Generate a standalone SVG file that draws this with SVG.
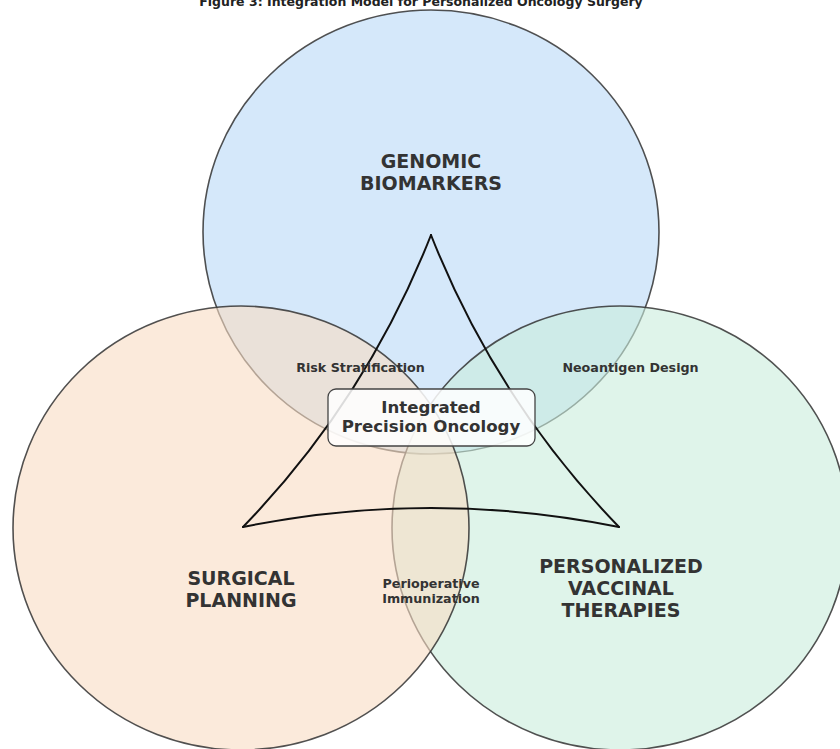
<svg xmlns="http://www.w3.org/2000/svg" width="840" height="749" viewBox="0 0 840 749">
  <style>
    text { font-family: "DejaVu Sans", "Liberation Sans", sans-serif; font-weight: bold; fill: #333; text-anchor: middle; }
    .title { font-size: 12.5px; fill: #222; }
    .big { font-size: 19px; }
    .small { font-size: 12.7px; }
    .center { font-size: 16.6px; }
    .circ { stroke: #333; stroke-opacity: 0.85; stroke-width: 1.6; fill-opacity: 0.6; }
    .edge { fill: none; stroke: #111; stroke-width: 2; stroke-linecap: round; }
  </style>
  <rect width="840" height="749" fill="#ffffff"/>
  <text class="title" x="421" y="6">Figure 3: Integration Model for Personalized Oncology Surgery</text>

  <g id="genomic-biomarkers">
    <ellipse class="circ" cx="431" cy="232" rx="228" ry="222" fill="#b9d8f7"/>
  </g>
  <g id="personalized-vaccinal-therapies">
    <ellipse class="circ" cx="620" cy="528" rx="228" ry="222" fill="#caeddc"/>
  </g>
  <g id="surgical-planning">
    <ellipse class="circ" cx="241" cy="528" rx="228" ry="222" fill="#f8dcc3"/>
  </g>

  <g id="connectors">
    <path class="edge" d="M431,235 Q366,400 243,527"/>
    <path class="edge" d="M243,527 Q431,489 619,527"/>
    <path class="edge" d="M619,527 Q496,400 431,235"/>
  </g>

  <g id="labels">
    <text class="big" x="431" y="168">GENOMIC</text>
    <text class="big" x="431" y="190">BIOMARKERS</text>
    <text class="big" x="241" y="585">SURGICAL</text>
    <text class="big" x="241" y="607">PLANNING</text>
    <text class="big" x="621" y="573">PERSONALIZED</text>
    <text class="big" x="621" y="595">VACCINAL</text>
    <text class="big" x="621" y="617">THERAPIES</text>
    <text class="small" x="360.5" y="372">Risk Stratification</text>
    <text class="small" x="630.5" y="372">Neoantigen Design</text>
    <text class="small" x="431" y="588">Perioperative</text>
    <text class="small" x="431" y="603">Immunization</text>
  </g>

  <g id="integrated-precision-oncology">
    <rect x="328" y="389" width="207" height="57" rx="8" ry="8" fill="#ffffff" fill-opacity="0.85" stroke="#444" stroke-width="1.3"/>
    <text class="center" x="431" y="413">Integrated</text>
    <text class="center" x="431" y="432">Precision Oncology</text>
  </g>
</svg>
